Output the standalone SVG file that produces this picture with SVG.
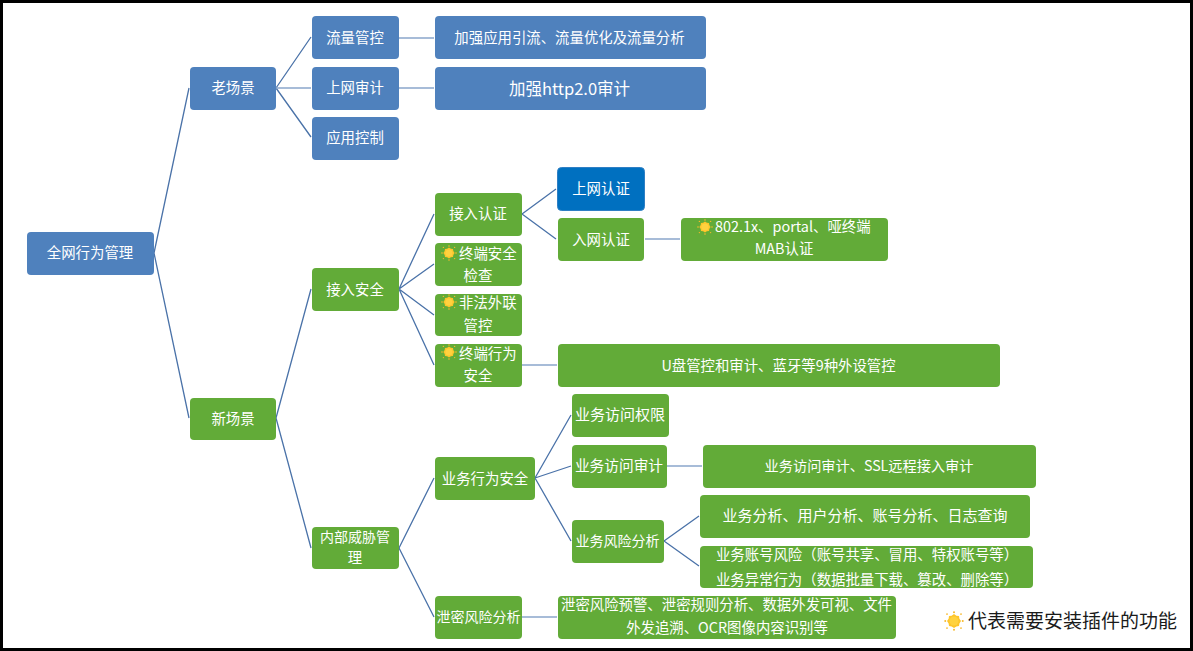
<svg xmlns="http://www.w3.org/2000/svg" xmlns:xlink="http://www.w3.org/1999/xlink" width="1193" height="651" viewBox="0 0 1193 651">
<style>
text{font-family:"Noto Sans CJK SC","Noto Sans",sans-serif;font-size:14.4px;fill:#fff;text-anchor:middle}
.b{fill:#4f81bd}.g{fill:#62ab38}.u{fill:#0070c0;stroke:#2f7fc4;stroke-width:1}
.d{stroke:#4a72a8;stroke-width:1.3;fill:none}.l{stroke:#8aa6cc;stroke-width:1.6;fill:none}
.s{text-anchor:start}
.n{font-size:14px}
</style>
<defs>
<g id="sun"><polygon points="0,-5.6 1.9,-4.3 4,-4 4.3,-1.9 5.6,0 4.3,1.9 4,4 1.9,4.3 0,5.6 -1.9,4.3 -4,4 -4.3,1.9 -5.6,0 -4.3,-1.9 -4,-4 -1.9,-4.3" fill="#fdc52b"/><circle r="3.6" fill="#ffd23f"/><g fill="#f7b92a"><circle cx="0" cy="-7" r=".8"/><circle cx="0" cy="7" r=".8"/><circle cx="-7" cy="0" r=".8"/><circle cx="7" cy="0" r=".8"/><circle cx="-5.6" cy="-5.6" r=".7"/><circle cx="5.6" cy="-5.6" r=".7"/><circle cx="-5.6" cy="5.6" r=".7"/><circle cx="5.6" cy="5.6" r=".7"/></g></g>
</defs>
<rect width="1193" height="651" fill="#000"/>
<rect x="3" y="3" width="1187" height="645" fill="#fff"/>
<g id="connectors">
<path class="d" d="M154 253L189 88M154 253L189 418M276 88L311 37M276 88L311 137M276 418L311 289M276 418L311 548M399 289L434 214M399 289L434 264M399 289L434 315M399 289L434 365M522 214L556 189M522 214L556 239M399 548L434 478M399 548L434 617M535 478L571 415M535 478L571 466M535 478L571 541M664 541L699 516M664 541L699 566"/>
<path class="l" d="M276 88H311M399 38H434M399 88H434M645 239H680M522 365H557M667 466H702M522 617H557"/>
</g>
<g id="n-root"><rect class="b" x="27" y="232" width="127" height="43" rx="4"/><text x="90" y="258">全网行为管理</text></g>
<g id="n-old"><rect class="b" x="190" y="67" width="86" height="43" rx="4"/><text x="233" y="92.500">老场景</text></g>
<g id="n-flow"><rect class="b" x="312" y="16" width="87" height="43" rx="4"/><text x="355" y="42.500">流量管控</text></g>
<g id="n-audit"><rect class="b" x="312" y="67" width="87" height="43" rx="4"/><text x="355" y="93">上网审计</text></g>
<g id="n-app"><rect class="b" x="312" y="117" width="87" height="43" rx="4"/><text x="355" y="143">应用控制</text></g>
<g id="n-flow-d"><rect class="b" x="435" y="16" width="271" height="43" rx="4"/><text x="569.500" y="42.500">加强应用引流、流量优化及流量分析</text></g>
<g id="n-audit-d"><rect class="b" x="435" y="67" width="271" height="43" rx="4"/><text x="569.500" y="95" style="font-size:16.500px">加强http2.0审计</text></g>
<g id="n-new"><rect class="g" x="190" y="398" width="86" height="42" rx="4"/><text x="233" y="423.500">新场景</text></g>
<g id="n-access"><rect class="g" x="312" y="268" width="87" height="43" rx="4"/><text x="355" y="294.500">接入安全</text></g>
<g id="n-internal"><rect class="g" x="312" y="527" width="87" height="42" rx="4"/><text class="n" x="355" y="542">内部威胁管</text><text x="355" y="563">理</text></g>
<g id="n-auth"><rect class="g" x="435" y="193" width="87" height="43" rx="4"/><text x="478" y="218.500">接入认证</text></g>
<g id="n-check"><rect class="g" x="435" y="243" width="87" height="43" rx="4"/><use xlink:href="#sun" href="#sun" x="449" y="253"/><text class="s" x="459" y="258.500">终端安全</text><text x="478" y="280.500">检查</text></g>
<g id="n-link"><rect class="g" x="435" y="294" width="87" height="42" rx="4"/><use xlink:href="#sun" href="#sun" x="449" y="302"/><text class="s" x="459" y="308">非法外联</text><text x="478" y="330.500">管控</text></g>
<g id="n-term"><rect class="g" x="435" y="344" width="87" height="43" rx="4"/><use xlink:href="#sun" href="#sun" x="449" y="352"/><text class="s" x="459" y="358.500">终端行为</text><text x="478" y="380.500">安全</text></g>
<g id="n-net"><rect class="u" x="557.500" y="167.500" width="87" height="43" rx="4"/><text x="601" y="193.500">上网认证</text></g>
<g id="n-in"><rect class="g" x="558" y="218" width="86" height="43" rx="4"/><text x="601" y="244.500">入网认证</text></g>
<g id="n-802"><rect class="g" x="681" y="218" width="207" height="43" rx="4"/><use xlink:href="#sun" href="#sun" x="705" y="227"/><text class="s" x="715" y="232">802.1x、portal、哑终端</text><text x="784" y="254">MAB认证</text></g>
<g id="n-usb"><rect class="g" x="558" y="344" width="442" height="43" rx="4"/><text x="778.500" y="371">U盘管控和审计、蓝牙等9种外设管控</text></g>
<g id="n-biz"><rect class="g" x="435" y="457" width="100" height="43" rx="4"/><text x="485" y="483.500">业务行为安全</text></g>
<g id="n-perm"><rect class="g" x="572" y="394" width="97" height="43" rx="4"/><text x="620" y="420" style="font-size:15px">业务访问权限</text></g>
<g id="n-baudit"><rect class="g" x="572" y="445" width="95" height="43" rx="4"/><text x="619" y="470.500" style="font-size:14.700px">业务访问审计</text></g>
<g id="n-ssl"><rect class="g" x="703" y="445" width="333" height="43" rx="4"/><text x="869" y="470.500" style="font-size:14.200px">业务访问审计、SSL远程接入审计</text></g>
<g id="n-risk"><rect class="g" x="572" y="520" width="92" height="43" rx="4"/><text class="n" x="617.500" y="546">业务风险分析</text></g>
<g id="n-ana"><rect class="g" x="700" y="495" width="330" height="43" rx="4"/><text x="865" y="521" style="font-size:15px">业务分析、用户分析、账号分析、日志查询</text></g>
<g id="n-acct"><rect class="g" x="700" y="546" width="333" height="42" rx="4"/><text x="867" y="560">业务账号风险（账号共享、冒用、特权账号等）</text><text x="867" y="585">业务异常行为（数据批量下载、篡改、删除等）</text></g>
<g id="n-leak"><rect class="g" x="435" y="596" width="87" height="43" rx="4"/><text class="n" x="478.500" y="621.500">泄密风险分析</text></g>
<g id="n-leak-d"><rect class="g" x="558" y="596" width="338" height="43" rx="4"/><text x="726.500" y="610">泄密风险预警、泄密规则分析、数据外发可视、文件</text><text x="727" y="632.500">外发追溯、OCR图像内容识别等</text></g>
<g id="legend"><use xlink:href="#sun" href="#sun" transform="translate(954 621) scale(1.25)"/><text class="s" x="968" y="628" style="font-size:19px;fill:#1a1a1a">代表需要安装插件的功能</text></g>
</svg>
